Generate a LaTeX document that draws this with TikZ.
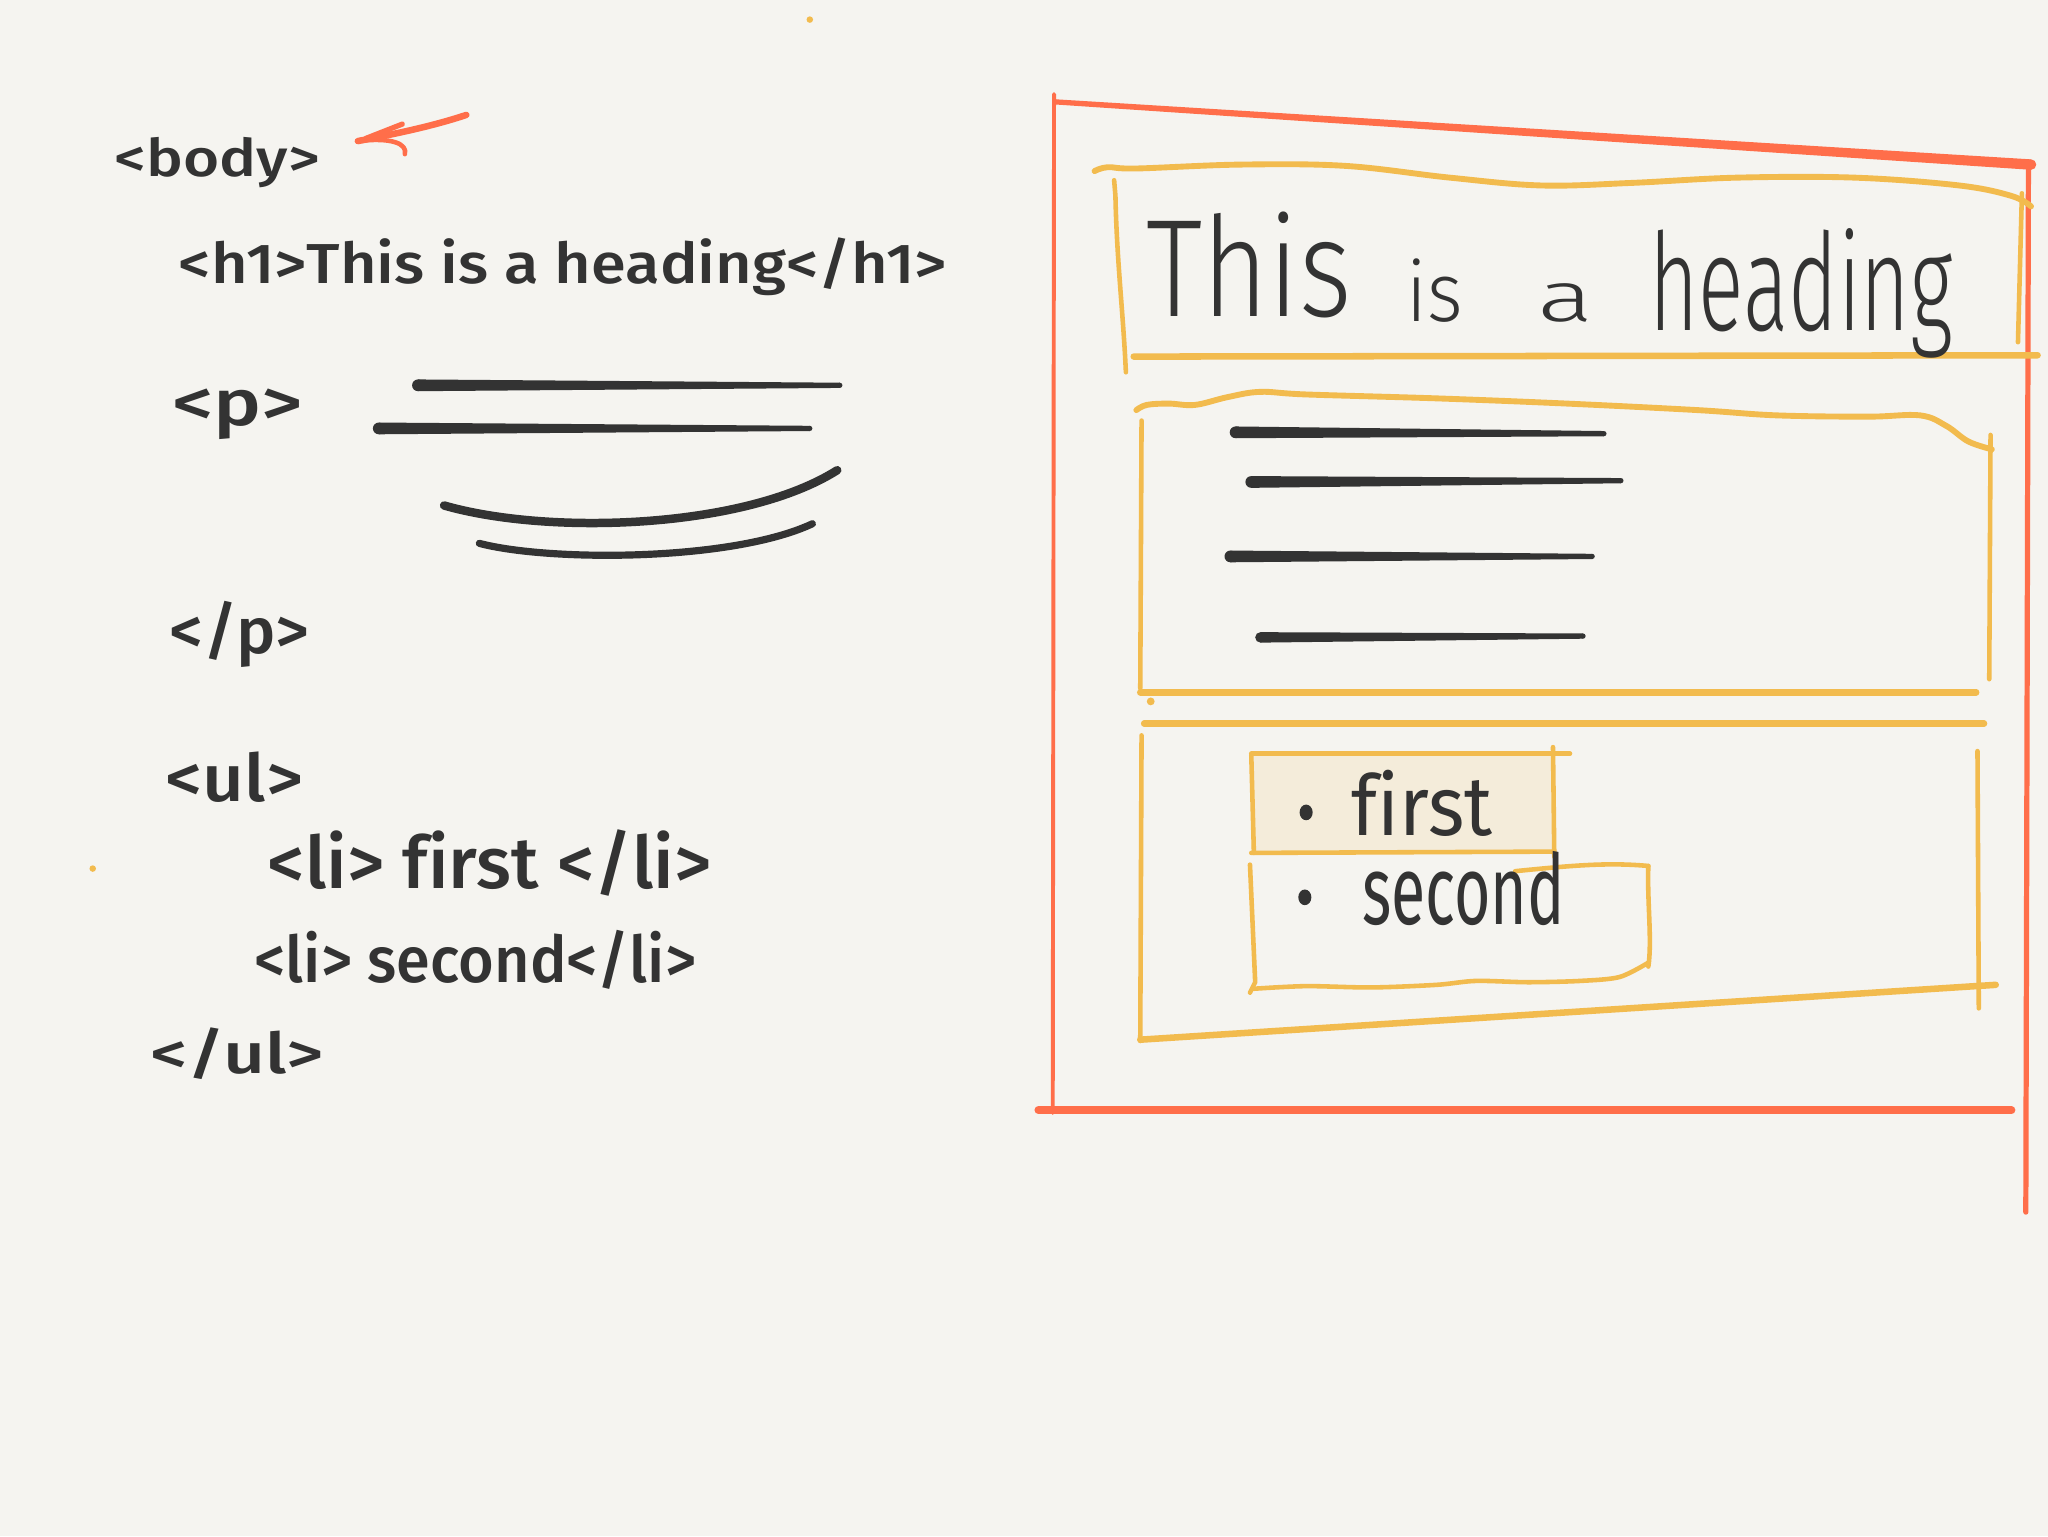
\documentclass[tikz,border=0pt]{standalone}
\usepackage{fontspec}
\setmainfont{Fira Sans}[Ligatures=CommonOff]
\IfFontExistsTF{Fira Sans Light}
  {\newfontfamily\lightfont{Fira Sans Light}[Ligatures=CommonOff]}
  {\IfFontExistsTF{Lato Light}
     {\newfontfamily\lightfont{Lato Light}[Ligatures=CommonOff]}
     {\newfontfamily\lightfont{Fira Sans}[Ligatures=CommonOff]}}
\IfFontExistsTF{Fira Sans Medium}
  {\newfontfamily\medfont{Fira Sans Medium}[Ligatures=CommonOff]}
  {\newfontfamily\medfont{Fira Sans}[Ligatures=CommonOff]}
\definecolor{bg}{HTML}{F5F4F0}
\definecolor{inkc}{HTML}{333333}
\definecolor{redc}{HTML}{FF6E4A}
\definecolor{orng}{HTML}{F2BB4E}
\definecolor{beige}{HTML}{F4ECDA}
\tikzset{
  ob/.style={draw=orng, line width=4.5pt, line cap=round, line join=round},
  rb/.style={draw=redc, line cap=round, line join=round},
  inkline/.style={draw=inkc, line cap=round, line width=6pt},
  txt/.style={inner sep=0pt, outer sep=0pt, text=inkc, anchor=base west},
  codetxt/.style={txt, font=\medfont},
}
\newcommand{\taper}[7][inkc]{%
  \fill[#1] (#2,#3-#6/2) -- (#4,#5-#7/2) -- (#4,#5+#7/2) -- (#2,#3+#6/2) -- cycle;
  \fill[#1] (#2,#3) circle[radius=#6/2];
  \fill[#1] (#4,#5) circle[radius=#7/2];}
\begin{document}
\begin{tikzpicture}[x=1pt,y=-1pt]
\fill[bg] (0,0) rectangle (1568,1176);
\useasboundingbox (0,0) rectangle (1568,1176);

% stray dots
\fill[orng] (620,15) circle[radius=2.5];
\fill[orng] (71,665) circle[radius=2.5];

% ---------- left: code ----------
\node[codetxt] (body) at (88,135) {\resizebox{157pt}{30pt}{<body>}};
\node[codetxt] (h1) at (137,217) {\resizebox{588pt}{35pt}{<h1>This is a heading</h1>}};
\node[codetxt] (popen) at (132,326) {\resizebox{100pt}{28pt}{<p>}};
\node[codetxt] (pclose) at (130,500) {\resizebox{107pt}{40pt}{</p>}};
\node[codetxt] (ulopen) at (127,614) {\resizebox{105pt}{38pt}{<ul>}};
\node[codetxt] (li1) at (205,680) {\resizebox{340pt}{45pt}{<li> first </li>}};
\node[codetxt] (li2) at (195,752) {\resizebox{338pt}{40pt}{<li> second</li>}};
\node[codetxt] (ulclose) at (115,822) {\resizebox{133pt}{35pt}{</ul>}};

% red arrow pointing at <body>
\coordinate (arrtail) at (357,88);
\coordinate (arrtip) at (274,108);
\draw[rb, line width=5pt] (arrtail) .. controls (330,97) and (300,103) .. (arrtip);
\draw[rb, line width=4pt] (308,95) -- (280,106);
\draw[rb, line width=3.5pt] (arrtip) .. controls (300,105) and (312,110) .. (310,118);

% paragraph scribbles (left)
\taper{320}{295}{643}{295}{9}{4}
\taper{290}{328}{620}{328}{9}{4}
\draw[inkline, line width=6.5pt] (340,387) .. controls (420,410) and (570,405) .. (641,360);
\draw[inkline, line width=5.5pt] (367,416) .. controls (420,430) and (560,430) .. (622,401);

% ---------- right: rendered page ----------
% red body box
\taper[redc]{808}{78}{1555}{126}{4}{8}
\draw[rb, line width=3pt] (807,72) -- (806,852);
\draw[rb, line width=4pt] (1553,126) -- (1551,928);
\draw[rb, line width=6pt] (795,850) -- (1540,850);

% heading box
\draw[ob] plot[smooth, tension=0.6] coordinates {(838,131) (848,128) (870,129) (950,126) (1030,127) (1110,136) (1180,142) (1250,140) (1330,136) (1420,136) (1500,142) (1540,150) (1555,158)};
\draw[ob, line width=3.5pt] (853,138) -- (854,150) .. controls (855,200) and (860,240) .. (862,285);
\draw[ob, line width=5pt] (868,273) -- (1560,272);
\draw[ob, line width=3.5pt] (1548,148) -- (1545,262);

% paragraph box
\draw[ob] plot[smooth, tension=0.6] coordinates {(870,314) (878,310) (895,309) (915,310) (940,304) (965,300) (1000,302) (1100,305) (1200,309) (1300,314) (1360,318) (1430,319) (1470,318) (1490,326) (1507,338) (1525,344)};
\draw[ob, line width=3.5pt] (874,322) -- (873,527);
\draw[ob, line width=3.5pt] (1524,333) -- (1523,520);
\draw[ob, line width=5pt] (873,530) -- (1513,530);
\fill[orng] (881,537) circle[radius=3];

\taper{946}{331}{1228}{332}{9}{4}
\taper{958}{369}{1241}{368}{9}{4}
\taper{942}{426}{1219}{426}{9}{4}
\taper{965}{488}{1212}{487}{8}{4}

% list box
\draw[ob, line width=5pt] (876,554) -- (1519,554);
\draw[ob, line width=3.5pt] (874,563) -- (873,797);
\draw[ob, line width=3.5pt] (1514,575) -- (1515,772);
\draw[ob, line width=5pt] (873,796) -- (1528,754);

% first item box
\fill[beige] (958,578) rectangle (1189,653);
\draw[ob, line width=3.5pt] (958,577) -- (1202,577);
\draw[ob, line width=3.5pt] (958,578) -- (960,653);
\draw[ob, line width=3.5pt] (958,653) -- (1190,652);
\draw[ob, line width=3.5pt] (1189,572) -- (1190,656);

% second item box
\draw[ob, line width=3.5pt] (957,662) -- (961,752) -- (957,760);
\draw[ob, line width=3.5pt] (1160,667) .. controls (1200,663) and (1230,660) .. (1262,663);
\draw[ob, line width=3.5pt] (1262,663) .. controls (1261,690) and (1265,720) .. (1262,740);
\draw[ob, line width=3.5pt] plot[smooth] coordinates {(960,757) (1000,755) (1050,756) (1100,754) (1130,751) (1170,752) (1210,751) (1240,748) (1262,737)};

% rendered heading, word by word as spaced in the sketch
\node[txt] (hw1) at (878,242) {\resizebox{157pt}{80pt}{\lightfont This}};
\node[txt] (hw2) at (1077,246) {\resizebox{43pt}{48pt}{\lightfont is}};
\node[txt] (hw3) at (1177,246) {\resizebox{43pt}{29pt}{\lightfont a}};
\node[txt] (hw4) at (1263,253) {\resizebox{232pt}{78pt}{\lightfont heading}};

% list items
\fill[inkc] (1000,622) ellipse[x radius=5, y radius=6];
\node[txt] (first) at (1035,640) {\resizebox{108pt}{50pt}{first}};
\fill[inkc] (999,687) ellipse[x radius=5, y radius=6];
\node[txt] (second) at (1043,708) {\resizebox{155pt}{56pt}{second}};
\end{tikzpicture}
\end{document}
